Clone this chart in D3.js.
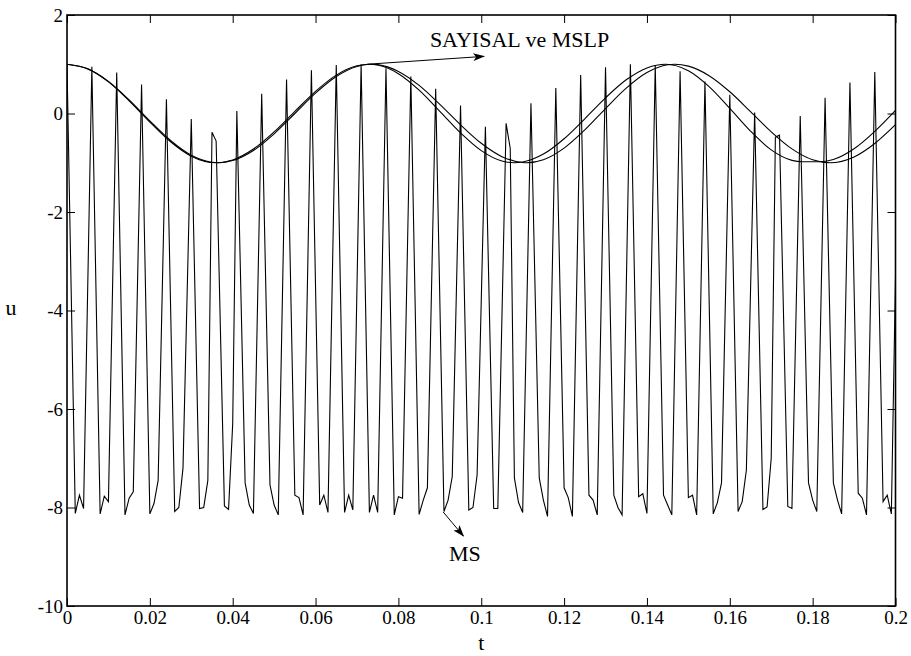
<!DOCTYPE html>
<html>
<head>
<meta charset="utf-8">
<script src="https://cdn.jsdelivr.net/npm/d3@7"></script>
<style>
  html, body { margin: 0; padding: 0; background: #fff; }
  svg { display: block; }
</style>
</head>
<body>
<svg id="chart" width="911" height="656"></svg>
<script>
// Axis ticks
const xTicks = [0, 0.02, 0.04, 0.06, 0.08, 0.1, 0.12, 0.14, 0.16, 0.18, 0.2];
const xTickLabels = ["0", "0.02", "0.04", "0.06", "0.08", "0.1", "0.12", "0.14", "0.16", "0.18", "0.2"];
const yTicks = [-10, -8, -6, -4, -2, 0, 2];
const yTickLabels = ["-10", "-8", "-6", "-4", "-2", "0", "2"];

// SAYISAL solution u(t)
const sayisalT = [0, 0.005, 0.010, 0.015, 0.020, 0.025, 0.030, 0.036, 0.040, 0.045, 0.050, 0.055, 0.060, 0.065, 0.070, 0.073,
  0.075, 0.080, 0.085, 0.090, 0.095, 0.100, 0.105, 0.108, 0.110, 0.115, 0.120, 0.125, 0.130, 0.135, 0.140, 0.1445,
  0.150, 0.155, 0.160, 0.165, 0.170, 0.175, 0.1775, 0.1815, 0.185, 0.190, 0.195, 0.200];
const sayisalU = [1, 0.906, 0.643, 0.259, -0.174, -0.574, -0.866, -1, -0.943, -0.722, -0.373, 0.042, 0.450, 0.779, 0.968, 1,
  0.984, 0.809, 0.474, 0.045, -0.393, -0.753, -0.964, -1, -0.985, -0.824, -0.512, -0.107, 0.318, 0.684, 0.926, 1,
  0.867, 0.545, 0.104, -0.357, -0.739, -0.952, -0.98, -0.98, -0.933, -0.715, -0.361, 0.065];

// MSLP solution u(t)
const mslpT = [0, 0.005, 0.010, 0.015, 0.020, 0.025, 0.030, 0.035, 0.0365, 0.040, 0.045, 0.050, 0.055, 0.060, 0.065, 0.070, 0.0735,
  0.075, 0.080, 0.085, 0.090, 0.095, 0.100, 0.105, 0.110, 0.111, 0.115, 0.120, 0.125, 0.130, 0.135, 0.140, 0.145, 0.1467,
  0.150, 0.155, 0.160, 0.165, 0.170, 0.175, 0.180, 0.1842, 0.190, 0.195, 0.200];
const mslpU = [1, 0.909, 0.652, 0.276, -0.150, -0.548, -0.848, -0.991, -1, -0.956, -0.751, -0.412, 0, 0.412, 0.751, 0.956, 1,
  0.992, 0.855, 0.571, 0.187, -0.229, -0.605, -0.876, -0.996, -1, -0.939, -0.703, -0.333, 0.101, 0.515, 0.831, 0.989, 1,
  0.962, 0.768, 0.441, 0.038, -0.372, -0.718, -0.939, -1, -0.881, -0.608, -0.227];

// MS solution u(t), vertices of the sampled trace
const msT = [0, 0.002, 0.003, 0.004, 0.006, 0.008, 0.009, 0.010, 0.012, 0.014, 0.015, 0.016, 0.018, 0.020, 0.021, 0.022,
  0.024, 0.026, 0.027, 0.028, 0.030, 0.032, 0.033, 0.034, 0.035, 0.036, 0.038, 0.039, 0.040, 0.041, 0.043, 0.044, 0.045,
  0.047, 0.049, 0.050, 0.051, 0.053, 0.055, 0.056, 0.057, 0.059, 0.061, 0.062, 0.063, 0.065, 0.067, 0.068, 0.069,
  0.071, 0.073, 0.074, 0.075, 0.077, 0.079, 0.080, 0.081, 0.083, 0.085, 0.086, 0.087, 0.089, 0.091, 0.092, 0.093,
  0.095, 0.097, 0.098, 0.099, 0.101, 0.103, 0.104, 0.106, 0.107, 0.108, 0.109, 0.110, 0.112, 0.114, 0.115, 0.116,
  0.118, 0.120, 0.121, 0.122, 0.124, 0.126, 0.127, 0.128, 0.130, 0.132, 0.133, 0.134, 0.136, 0.138, 0.139, 0.140,
  0.142, 0.144, 0.145, 0.146, 0.148, 0.150, 0.151, 0.152, 0.154, 0.156, 0.157, 0.158, 0.160, 0.162, 0.163, 0.164,
  0.166, 0.168, 0.169, 0.170, 0.171, 0.172, 0.174, 0.175, 0.177, 0.179, 0.180, 0.181, 0.183, 0.185, 0.186, 0.187,
  0.189, 0.191, 0.192, 0.193, 0.195, 0.197, 0.198, 0.199, 0.200];
const msU = [1.0, -8.12, -7.75, -8.02, 0.95, -8.13, -7.77, -7.88, 0.83, -8.15, -7.81, -7.68, 0.59, -8.13, -7.92, -7.45,
  0.29, -8.08, -8.0, -7.2, -0.11, -8.02, -8.0, -7.45, -0.38, -0.56, -7.97, -8.04, -6.3, 0.05, -7.5, -7.95, -8.12,
  0.40, -7.54, -7.95, -8.15, 0.69, -7.75, -7.8, -8.15, 0.88, -7.95, -7.75, -8.1, 0.985, -8.1, -7.75, -8.05,
  1.0, -8.1, -7.75, -8.1, 0.92, -8.15, -7.78, -7.81, 0.75, -8.14, -7.85, -7.6, 0.50, -8.08, -7.85, -7.37,
  0.16, -8.05, -8.0, -7.34, -0.27, -8.02, -8.02, -0.20, -0.71, -7.4, -7.9, -8.1, 0.21, -7.4, -7.85, -8.18,
  0.52, -7.6, -7.8, -8.18, 0.78, -7.75, -7.85, -8.15, 0.94, -7.75, -8.0, -8.15, 1.0, -7.78, -7.72, -8.12,
  0.985, -7.75, -7.95, -8.15, 0.86, -7.8, -7.75, -8.15, 0.65, -8.13, -7.9, -7.5, 0.38, -8.08, -7.88, -7.24,
  0.02, -8.04, -7.99, -7.0, -0.48, -0.44, -7.98, -8.02, -0.05, -7.5, -7.85, -8.08, 0.32, -7.5, -7.85, -8.13,
  0.63, -7.71, -7.81, -8.15, 0.84, -7.88, -7.75, -8.13, -3.3];

const W = 911, H = 656;
const margin = { left: 67, right: 15.5, top: 15, bottom: 50 };

const svg = d3.select("#chart");
const x = d3.scaleLinear().domain([0, 0.2]).range([margin.left, W - margin.right]);
const y = d3.scaleLinear().domain([-10, 2]).range([H - margin.bottom, margin.top]);

const serif = "'Liberation Serif'";

svg.append("rect").attr("width", W).attr("height", H).attr("fill", "#fff");

const defs = svg.append("defs");
defs.append("clipPath").attr("id", "plotClip")
  .append("rect")
  .attr("x", x(0)).attr("y", y(2))
  .attr("width", x(0.2) - x(0)).attr("height", y(-10) - y(2));

// Arrow head
defs.append("marker")
  .attr("id", "arrowHead")
  .attr("viewBox", "0 0 12 8")
  .attr("refX", 11).attr("refY", 4)
  .attr("markerWidth", 12).attr("markerHeight", 8)
  .attr("markerUnits", "userSpaceOnUse")
  .attr("orient", "auto")
  .append("path")
  .attr("d", "M0,0 L12,4 L0,8 L3,4 Z")
  .attr("fill", "#000");

// Axes (inward ticks on all four sides)
const gBottom = svg.append("g")
  .attr("transform", `translate(0,${y(-10)})`)
  .call(d3.axisBottom(x).tickValues(xTicks).tickFormat((d, i) => xTickLabels[i]).tickSize(-8).tickPadding(5));
const gTop = svg.append("g")
  .attr("transform", `translate(0,${y(2)})`)
  .call(d3.axisTop(x).tickValues(xTicks).tickFormat("").tickSize(-8));
const gLeft = svg.append("g")
  .attr("transform", `translate(${x(0)},0)`)
  .call(d3.axisLeft(y).tickValues(yTicks).tickFormat((d, i) => yTickLabels[i]).tickSize(-8).tickPadding(4));
const gRight = svg.append("g")
  .attr("transform", `translate(${x(0.2)},0)`)
  .call(d3.axisRight(y).tickValues(yTicks).tickFormat("").tickSize(-8));

[gBottom, gTop, gLeft, gRight].forEach(g => {
  g.attr("font-family", null).attr("font-size", null);
  g.select(".domain").remove();
  g.selectAll(".tick line").attr("stroke", "#000").attr("stroke-width", 1);
  g.selectAll(".tick text")
    .style("font-family", serif)
    .style("font-size", "19px")
    .style("fill", "#000");
});

// Lines
const plot = svg.append("g").attr("clip-path", "url(#plotClip)");

const smoothLine = d3.line()
  .x(d => x(d[0])).y(d => y(d[1]))
  .curve(d3.curveMonotoneX);
const rawLine = d3.line()
  .x(d => x(d[0])).y(d => y(d[1]));

plot.append("path")
  .datum(msT.map((t, i) => [t, msU[i]]))
  .attr("d", rawLine)
  .attr("fill", "none").attr("stroke", "#000").attr("stroke-width", 1.1)
  .attr("stroke-linejoin", "miter");

plot.append("path")
  .datum(sayisalT.map((t, i) => [t, sayisalU[i]]))
  .attr("d", smoothLine)
  .attr("fill", "none").attr("stroke", "#000").attr("stroke-width", 1.1);

plot.append("path")
  .datum(mslpT.map((t, i) => [t, mslpU[i]]))
  .attr("d", smoothLine)
  .attr("fill", "none").attr("stroke", "#000").attr("stroke-width", 1.1);

// Frame
svg.append("rect")
  .attr("x", x(0)).attr("y", y(2))
  .attr("width", x(0.2) - x(0)).attr("height", y(-10) - y(2))
  .attr("fill", "none").attr("stroke", "#000").attr("stroke-width", 1.6);

// Annotations
svg.append("line")
  .attr("x1", x(0.0724)).attr("y1", y(1.0))
  .attr("x2", x(0.1007)).attr("y2", y(1.16))
  .attr("stroke", "#000").attr("stroke-width", 1)
  .attr("marker-end", "url(#arrowHead)");
svg.append("text")
  .attr("x", x(0.0876)).attr("y", y(1.356))
  .style("font-family", serif).style("font-size", "22px")
  .text("SAYISAL ve MSLP");

svg.append("line")
  .attr("x1", x(0.0908)).attr("y1", y(-8.09))
  .attr("x2", x(0.0957)).attr("y2", y(-8.58))
  .attr("stroke", "#000").attr("stroke-width", 1)
  .attr("marker-end", "url(#arrowHead)");
svg.append("text")
  .attr("x", x(0.0922)).attr("y", y(-9.09))
  .style("font-family", serif).style("font-size", "22px")
  .text("MS");

// Axis titles
svg.append("text")
  .attr("x", (x(0) + x(0.2)) / 2).attr("y", 650)
  .attr("text-anchor", "middle")
  .style("font-family", serif).style("font-size", "22px")
  .text("t");
svg.append("text")
  .attr("x", 11).attr("y", (y(-10) + y(2)) / 2 + 4)
  .attr("text-anchor", "middle")
  .style("font-family", serif).style("font-size", "22px")
  .text("u");
</script>
</body>
</html>
